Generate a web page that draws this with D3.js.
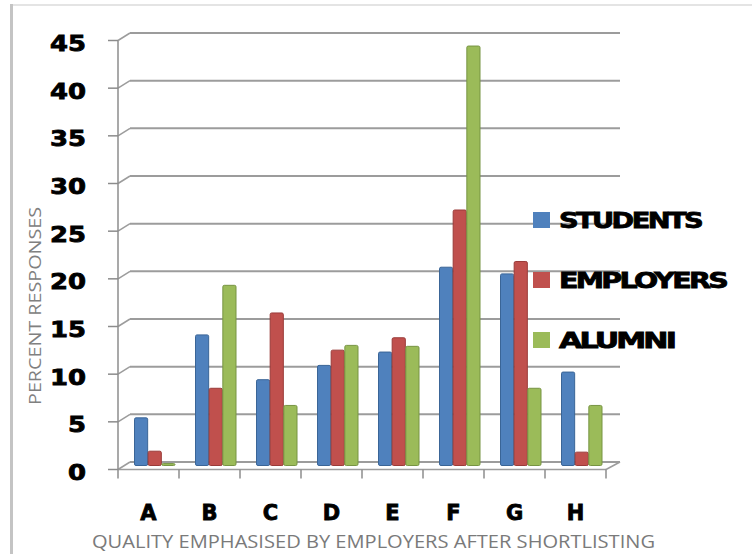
<!DOCTYPE html>
<html><head><meta charset="utf-8">
<script src="https://cdn.jsdelivr.net/npm/d3@7"></script>
<style>body{margin:0;background:#fff}svg{display:block}</style>
</head><body>
<script>
const categories = ["A","B","C","D","E","F","G","H"];
const seriesNames = ["STUDENTS","EMPLOYERS","ALUMNI"];
const students  = [5.0, 13.7, 9.0, 10.5, 11.9, 20.8, 20.1, 9.8];
const employers = [1.5, 8.1, 16.0, 12.1, 13.4, 26.8, 21.4, 1.4];
const alumni    = [0.2, 18.9, 6.3, 12.6, 12.5, 44.0, 8.1, 6.3];
const yTicks = [0,5,10,15,20,25,30,35,40,45];
const colors = ["#4F81BD","#C0504D","#9BBB59"];
const strokes = ["#3a6597","#9a3b39","#779443"];
const seriesValues = [students, employers, alumni];

const W = 752, H = 554;
const svg = d3.select("body").append("svg").attr("width", W).attr("height", H);

// frame
svg.append("line").attr("x1",12).attr("x2",W).attr("y1",5).attr("y2",5)
  .attr("stroke","#e4e4e4").attr("stroke-width",2);
svg.append("line").attr("x1",11.5).attr("x2",11.5).attr("y1",4).attr("y2",H)
  .attr("stroke","#c4c4c4").attr("stroke-width",3);

const dx = 12, dy = 7.5;               // 3D depth offset (front -> back)
const xFront = d3.scaleBand().domain(categories).range([118, 606]);
const yBack  = d3.scaleLinear().domain([0,45]).range([462, 33]);
const yFront = v => yBack(v) + dy;
const yBar   = d3.scaleLinear().domain([0,45]).range([465.5, 36.5]);
const xSeries = d3.scaleBand().domain(seriesNames).range([16.5, 57.5]);

const grid = svg.append("g");
yTicks.forEach(v => {
  grid.append("line").attr("x1",xFront.range()[0]+dx).attr("x2",620)
    .attr("y1",yBack(v)).attr("y2",yBack(v))
    .attr("stroke","#9c9c9c").attr("stroke-width",2);
  grid.append("line").attr("x1",118).attr("x2",118+dx)
    .attr("y1",yFront(v)).attr("y2",yBack(v))
    .attr("stroke","#9c9c9c").attr("stroke-width",1.5);
  grid.append("line").attr("x1",108).attr("x2",118)
    .attr("y1",yFront(v)).attr("y2",yFront(v))
    .attr("stroke","#8c8c8c").attr("stroke-width",1.5);
});
grid.append("line").attr("x1",118).attr("x2",606).attr("y1",yFront(0)).attr("y2",yFront(0))
  .attr("stroke","#9c9c9c").attr("stroke-width",1.5);
grid.append("line").attr("x1",606).attr("x2",620).attr("y1",yFront(0)).attr("y2",yBack(0))
  .attr("stroke","#9c9c9c").attr("stroke-width",1.5);
grid.append("line").attr("x1",118).attr("x2",118).attr("y1",yFront(45)).attr("y2",yFront(0))
  .attr("stroke","#8c8c8c").attr("stroke-width",1.5);
categories.concat(["_end"]).forEach((c,i) => {
  const x = i < categories.length ? xFront(c) : xFront.range()[1];
  grid.append("line").attr("x1",x).attr("x2",x).attr("y1",yFront(0)).attr("y2",yFront(0)+9)
    .attr("stroke","#8c8c8c").attr("stroke-width",1.5);
});

// y tick labels
svg.append("g").selectAll("text").data(yTicks).join("text")
  .attr("x",86).attr("y",d=>yFront(d)+3.5)
  .attr("text-anchor","end").attr("dominant-baseline","central")
  .attr("font-family","DejaVu Sans").attr("font-weight","bold").attr("font-size",21)
  .attr("textLength",d=>String(d).length*18).attr("lengthAdjust","spacingAndGlyphs")
  .attr("stroke","#000").attr("stroke-width",0.8)
  .attr("fill","#000").text(d=>d);

// bars
const bars = svg.append("g");
seriesNames.forEach((s,si) => {
  bars.selectAll(null).data(categories).join("rect")
    .attr("x",c=>xFront(c)+xSeries(s))
    .attr("y",(c,i)=>yBar(seriesValues[si][i]))
    .attr("width",xSeries.bandwidth()-0.5)
    .attr("height",(c,i)=>yBar(0)-yBar(seriesValues[si][i]))
    .attr("fill",colors[si]).attr("stroke",strokes[si]).attr("stroke-width",1)
    .attr("rx",1.5);
});

// category labels
svg.append("g").selectAll("text").data(categories).join("text")
  .attr("x",c=>xFront(c)+xFront.bandwidth()/2).attr("y",513)
  .attr("text-anchor","middle").attr("dominant-baseline","central")
  .attr("font-family","DejaVu Sans").attr("font-weight","bold").attr("font-size",21)
  .attr("stroke","#000").attr("stroke-width",0.8)
  .attr("fill","#000").text(c=>c);

// axis titles
svg.append("text").attr("x",92).attr("y",541).attr("dominant-baseline","central")
  .attr("font-family","Open Sans").attr("font-size",18).attr("fill","#7a7a7a")
  .attr("textLength",563).attr("lengthAdjust","spacingAndGlyphs")
  .text("QUALITY EMPHASISED BY EMPLOYERS AFTER SHORTLISTING");
svg.append("text").attr("transform","translate(35,306) rotate(-90)")
  .attr("text-anchor","middle").attr("dominant-baseline","central")
  .attr("font-family","Open Sans").attr("font-size",16).attr("fill","#808080")
  .attr("textLength",198).attr("lengthAdjust","spacingAndGlyphs")
  .text("PERCENT RESPONSES");

// legend
const legendY = [220, 280, 340];
const legendLen = [142, 167, 115];
const lg = svg.append("g");
seriesNames.forEach((s,i) => {
  lg.append("rect").attr("x",533).attr("y",legendY[i]-8).attr("width",17).attr("height",16)
    .attr("fill",colors[i]);
  lg.append("text").attr("x",559).attr("y",legendY[i]+1).attr("dominant-baseline","central")
    .attr("font-family","DejaVu Sans").attr("font-weight","bold").attr("font-size",21)
    .attr("textLength",legendLen[i]).attr("lengthAdjust","spacingAndGlyphs")
    .attr("stroke","#000").attr("stroke-width",0.8)
    .attr("letter-spacing",-2).attr("fill","#000").text(s);
});
</script>
</body></html>
